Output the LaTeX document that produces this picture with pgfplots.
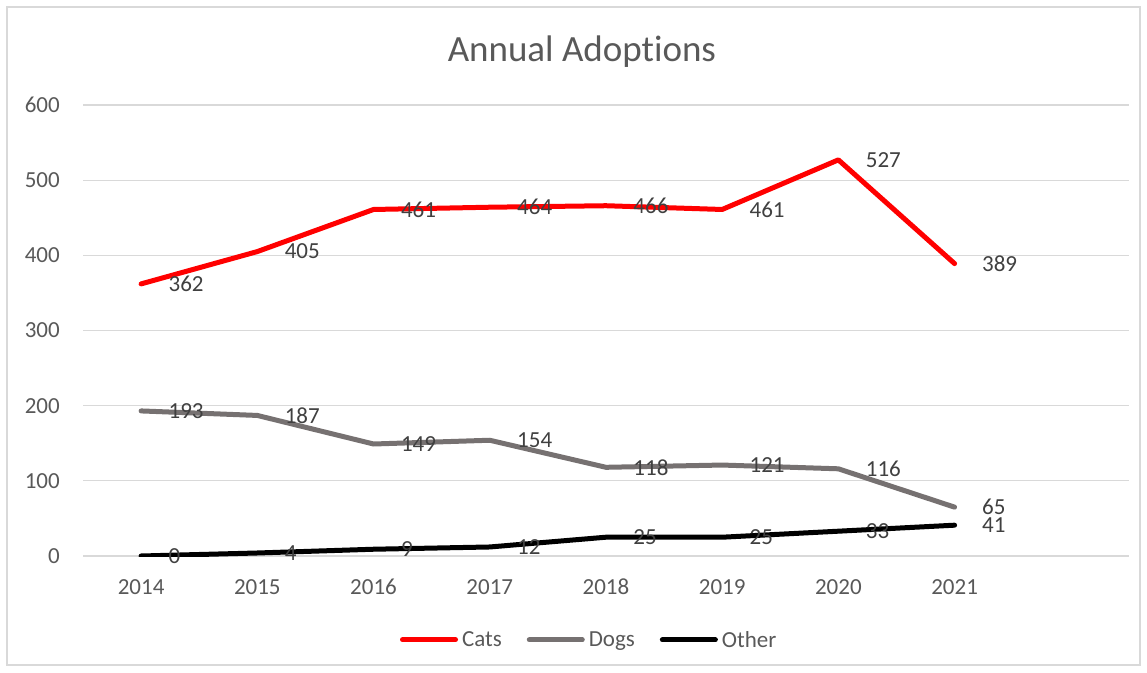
\documentclass[border=0pt]{standalone}
\usepackage{pgfplots}
\pgfplotsset{compat=1.18}
\usepackage{fontspec}
\setmainfont{Carlito}[Ligatures=NoCommon]
\definecolor{gridc}{HTML}{D9D9D9}
\definecolor{tickc}{HTML}{595959}
\definecolor{labc}{HTML}{404040}
\definecolor{dogc}{HTML}{767171}
\begin{document}
\begin{tikzpicture}
\useasboundingbox (0,0) rectangle (1147pt,672pt);
\draw[gridc, line width=1.3pt] (7pt,7pt) rectangle (1140pt,665pt);
\begin{axis}[
  at={(83pt,116pt)}, anchor=south west,
  scale only axis, width=1046pt, height=451pt,
  xmin=-0.5, xmax=8.5, ymin=0, ymax=600,
  xtick={0,1,2,3,4,5,6,7},
  xticklabels={2014,2015,2016,2017,2018,2019,2020,2021},
  ytick={0,100,200,300,400,500,600},
  /pgf/number format/assume math mode=true,
  axis line style={draw=none},
  major tick length=0pt,
  ymajorgrids, grid style={gridc, line width=1.2pt},
  ticklabel style={font=\fontsize{23}{27}\selectfont, text=tickc, inner sep=0pt},
  yticklabel style={anchor=east, xshift=-23pt},
  xticklabel style={anchor=center, yshift=-31pt},
  title={Annual Adoptions},
  title style={at={(0.477,1)}, anchor=center, yshift=47pt, font=\fontsize{37}{44}\selectfont, text=tickc},
  nodes near coords,
  every node near coord/.append style={anchor=west, xshift=25pt, inner sep=0pt, font=\fontsize{23}{27}\selectfont, text=labc},
  legend style={at={(0.483,-0.186)}, anchor=center, draw=none, fill=none,
    legend columns=3, font=\fontsize{23}{27}\selectfont, text=tickc,
    nodes={inner sep=0pt},
    /tikz/every odd column/.append style={column sep=4pt},
    /tikz/every even column/.append style={column sep=25pt}},
  legend image code/.code={\draw[#1, line width=5pt, line cap=round] (0pt,0pt) -- (53pt,0pt);},
]
\addplot[red, line width=5pt, line cap=round, line join=round] coordinates {
(0,362) (1,405) (2,461) (3,464) (4,466) (5,461) (6,527) (7,389)};
\addlegendentry{Cats}
\addplot[dogc, line width=5pt, line cap=round, line join=round] coordinates {
(0,193) (1,187) (2,149) (3,154) (4,118) (5,121) (6,116) (7,65)};
\addlegendentry{Dogs}
\addplot[black, line width=5pt, line cap=round, line join=round] coordinates {
(0,0) (1,4) (2,9) (3,12) (4,25) (5,25) (6,33) (7,41)};
\addlegendentry{Other}
\end{axis}
\end{tikzpicture}
\end{document}
